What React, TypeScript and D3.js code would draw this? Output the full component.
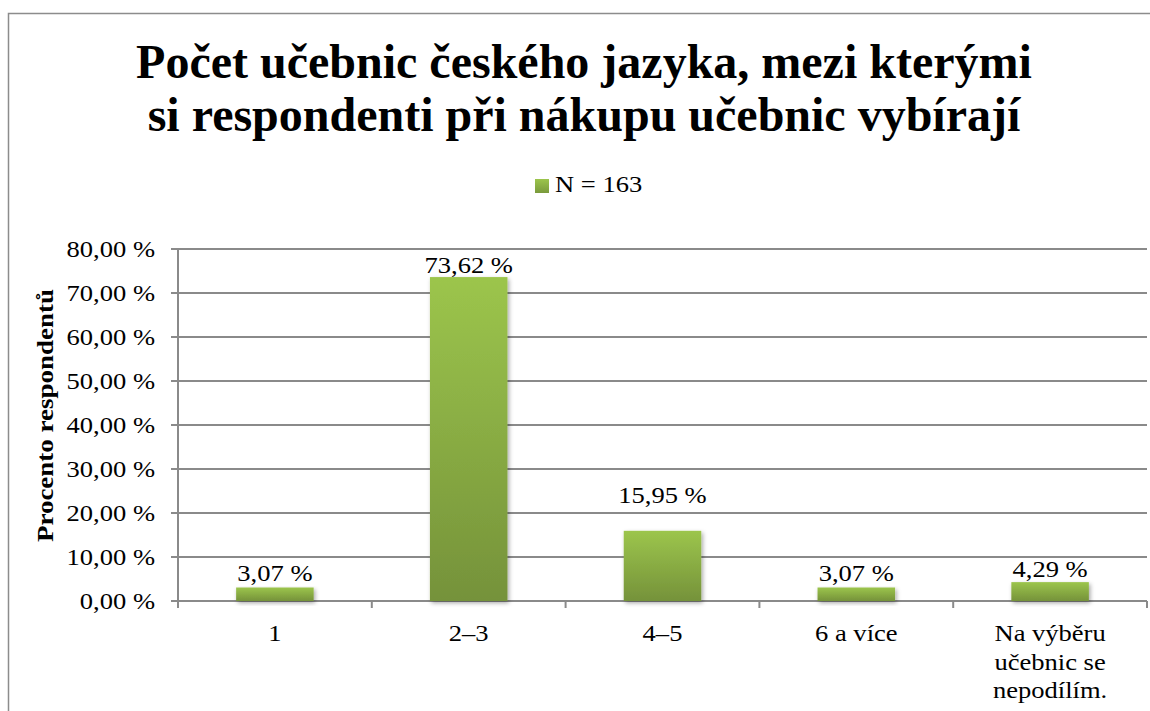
import React from 'react';
import * as d3 from 'd3';

// data
const categories = ['1', '2–3', '4–5', '6 a více', 'Na výběru učebnic se nepodílím.'];
const categoryLines = [['1'], ['2–3'], ['4–5'], ['6 a více'], ['Na výběru', 'učebnic se', 'nepodílím.']];
const values = [3.07, 73.62, 15.95, 3.07, 4.29];
const yTicks = [0, 10, 20, 30, 40, 50, 60, 70, 80];
const seriesName = 'N = 163';
const titleLines = ['Počet učebnic českého jazyka, mezi kterými', 'si respondenti při nákupu učebnic vybírají'];
const yTitle = 'Procento respondentů';

// label lift above the bar top (px), Excel placed the 4–5 one higher
const labelLift = [6, 4, 28, 6, 5];

const W = 1150;
const H = 711;
const font = '"Liberation Serif", "Times New Roman", serif';
const grid = '#8a8a8a';
const sx = 1.18; // the small text in the original is drawn wider than Times

const fmt = (v: number) => v.toFixed(2).replace('.', ',') + ' %';

function Txt({ x, y, anchor = 'middle', size = 22.5, weight = 'normal', children }: any) {
  return (
    <text
      transform={`translate(${x},${y}) scale(${sx},1)`}
      textAnchor={anchor}
      fontFamily={font}
      fontSize={size}
      fontWeight={weight}
      fill="#000"
    >
      {children}
    </text>
  );
}

export default function App() {
  const x = d3.scaleBand<string>()
    .domain(categories)
    .range([178, 1147])
    .paddingInner(0.6)
    .paddingOuter(0.3);

  const y = d3.scaleLinear().domain([0, 80]).range([601, 249]);

  const step = x.step();
  const boundaries = d3.range(categories.length + 1).map(i => 178 + i * step);

  return (
    <svg width={W} height={H} style={{ position: 'absolute', left: 0, top: 0, background: '#fff' }}>
      <defs>
        <linearGradient id="barFill" x1="0" y1="0" x2="0" y2="1">
          <stop offset="0%" stopColor="#9cc54c" />
          <stop offset="100%" stopColor="#75923a" />
        </linearGradient>
        <linearGradient id="legFill" x1="0" y1="0" x2="0" y2="1">
          <stop offset="0%" stopColor="#9cc54c" />
          <stop offset="100%" stopColor="#7a9a3c" />
        </linearGradient>
        <filter id="shadow" x="-10%" y="-10%" width="130%" height="140%">
          <feDropShadow dx="1.5" dy="2" stdDeviation="2" floodColor="#000" floodOpacity="0.35" />
        </filter>
      </defs>

      {/* chart border */}
      <rect x={8.5} y={13.5} width={W + 20} height={H + 20} fill="none" stroke="#8c8c8c" strokeWidth={1.5} />

      {/* title */}
      {titleLines.map((t, i) => (
        <text
          key={t}
          x={584}
          y={78 + i * 53}
          textAnchor="middle"
          fontFamily={font}
          fontSize={48}
          fontWeight="bold"
        >
          {t}
        </text>
      ))}

      {/* legend */}
      <rect x={535} y={179} width={14} height={14} fill="url(#legFill)" />
      <Txt x={555} y={192} anchor="start">{seriesName}</Txt>

      {/* gridlines + y ticks */}
      {yTicks.map(t => (
        <g key={t}>
          <line x1={171} x2={1147} y1={y(t)} y2={y(t)} stroke={grid} strokeWidth={2} />
          <Txt x={155} y={y(t) + 8} anchor="end">{fmt(t)}</Txt>
        </g>
      ))}

      {/* y axis line */}
      <line x1={178} x2={178} y1={y(80)} y2={y(0) + 7} stroke={grid} strokeWidth={2} />
      {/* category ticks */}
      {boundaries.map((b, i) => (
        <line key={i} x1={b} x2={b} y1={y(0)} y2={y(0) + 7} stroke={grid} strokeWidth={2} />
      ))}

      {/* bars */}
      {categories.map((c, i) => (
        <rect
          key={c}
          x={x(c)}
          y={y(values[i])}
          width={x.bandwidth()}
          height={y(0) - y(values[i])}
          fill="url(#barFill)"
          filter="url(#shadow)"
        />
      ))}

      {/* value labels */}
      {categories.map((c, i) => (
        <Txt key={c} x={(x(c) ?? 0) + x.bandwidth() / 2} y={y(values[i]) - labelLift[i]}>
          {fmt(values[i])}
        </Txt>
      ))}

      {/* category labels */}
      {categories.map((c, i) =>
        categoryLines[i].map((line, j) => (
          <Txt key={c + j} x={(x(c) ?? 0) + x.bandwidth() / 2} y={641 + j * 28.5}>
            {line}
          </Txt>
        ))
      )}

      {/* y axis title */}
      <text
        transform={`translate(53,${(283 + 548) / 2}) rotate(-90) scale(1.2,1)`}
        textAnchor="middle"
        fontFamily={font}
        fontSize={22.5}
        fontWeight="bold"
      >
        {yTitle}
      </text>
    </svg>
  );
}
